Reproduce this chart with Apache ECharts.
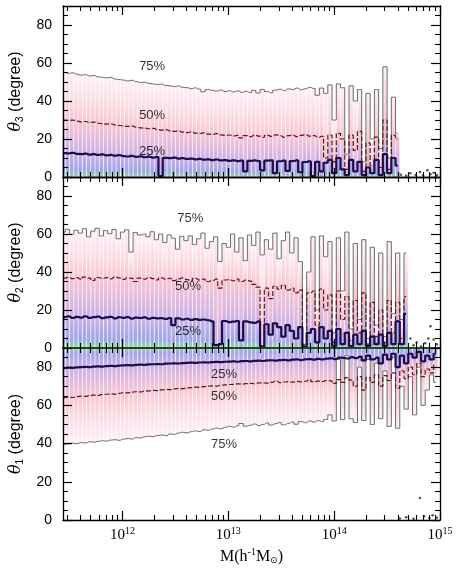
<!DOCTYPE html>
<html><head><meta charset="utf-8">
<script src="https://cdn.jsdelivr.net/npm/echarts@6/dist/echarts.min.js"></script>
<style>html,body{margin:0;padding:0;background:#fff}#c{width:458px;height:569px}</style>
</head><body><div id="c"></div>
<script>
// bin centres, log10(M / h^-1 Msun)
const logM = [11.44,11.48,11.52,11.56,11.60,11.64,11.68,11.72,11.76,11.80,
11.84,11.88,11.92,11.96,12.00,12.04,12.08,12.12,12.16,12.20,
12.24,12.28,12.32,12.36,12.40,12.44,12.48,12.52,12.56,12.60,
12.64,12.68,12.72,12.76,12.80,12.84,12.88,12.92,12.96,13.00,
13.04,13.08,13.12,13.16,13.20,13.24,13.28,13.32,13.36,13.40,
13.44,13.48,13.52,13.56,13.60,13.64,13.68,13.72,13.76,13.80,
13.84,13.88,13.92,13.96,14.00,14.04,14.08,14.12,14.16,14.20,
14.24,14.28,14.32,14.36,14.40,14.44,14.48,14.52,14.56,14.60,
14.64,14.68,14.72,14.76,14.80,14.84,14.88,14.92,14.96];

// theta_3 panel (top)
const t3_p75 = [55.0,54.6,54.8,54.1,53.6,53.9,53.2,53.4,52.7,52.5,
52.2,52.4,51.6,51.3,51.0,50.6,50.9,50.2,49.8,49.9,
49.3,49.0,48.7,48.9,48.2,48.0,47.6,47.9,47.2,47.0,
46.5,46.9,46.2,44.8,46.0,45.6,45.2,45.8,45.0,45.4,
44.8,45.3,44.6,45.1,44.4,45.6,44.2,46.1,45.0,44.3,
45.7,46.2,45.5,46.4,46.0,46.8,45.9,46.5,47.2,46.6,
43.0,46.8,44.0,48.5,30.0,49.0,47.0,12.0,48.0,40.0,
46.0,8.0,44.0,20.0,46.0,15.0,58.0,10.0,42.0,23.0];
const t3_p50 = [30.0,29.8,29.9,29.4,29.0,29.2,28.7,28.9,28.3,28.1,
27.8,28.0,27.4,27.1,26.9,26.6,26.8,26.2,25.9,25.7,
25.4,25.6,25.0,24.7,24.9,24.3,24.0,24.2,23.6,23.4,
23.7,23.1,22.9,23.2,22.6,22.4,22.8,22.2,21.9,22.1,
21.6,21.9,20.6,21.8,21.3,22.0,21.5,20.8,21.9,21.4,
22.2,21.7,20.9,21.8,22.0,21.2,21.9,22.3,21.5,21.8,
20.8,21.4,10.0,22.0,8.0,23.0,20.0,4.0,22.0,14.0,
24.0,3.0,18.0,6.0,21.0,5.0,30.0,4.0,22.0,20.0];
const t3_p25 = [12.6,12.4,12.7,12.2,12.0,12.3,11.8,12.0,11.6,11.9,
11.4,11.6,11.2,11.5,11.0,10.8,11.1,10.6,10.9,10.4,
10.7,10.2,10.5,0.5,10.1,9.9,10.2,9.7,9.9,9.5,
9.7,9.3,9.5,9.1,9.3,8.9,9.2,8.7,8.9,8.5,
8.8,8.4,8.6,3.0,8.5,8.7,8.4,3.5,8.6,8.8,
2.0,8.3,8.6,3.2,8.4,8.7,2.5,7.9,8.2,0.5,
8.0,3.0,7.5,9.0,2.0,10.0,4.0,1.0,9.0,3.0,
8.0,1.0,5.0,2.0,9.0,1.0,12.0,2.0,10.0,6.0];

// theta_2 panel (middle)
const t2_p75 = [61.0,62.5,59.8,62.0,60.5,62.8,58.5,61.5,63.0,59.0,
61.8,60.2,62.4,57.5,61.0,62.2,50.5,60.8,59.5,60.0,
58.5,61.2,57.0,60.0,55.5,59.5,57.8,52.0,58.8,56.5,
59.0,54.5,57.5,60.5,52.5,56.0,58.5,45.5,55.0,53.0,
60.0,50.5,58.0,46.0,59.5,54.0,61.0,49.0,57.0,52.0,
60.5,47.0,56.5,61.0,50.0,58.0,45.5,2.0,40.0,58.5,
20.0,59.0,48.0,56.0,8.0,58.0,30.0,61.0,10.0,55.0,
15.0,57.0,5.0,53.0,12.0,50.0,6.0,56.0,18.0,50.0,
15.0,50.0];
const t2_p50 = [36.8,37.2,36.5,37.0,36.2,37.3,36.8,35.6,37.1,36.6,
37.0,36.4,37.4,36.9,36.1,37.0,36.6,35.0,36.8,36.3,
37.1,36.5,35.8,36.9,36.2,36.7,35.5,36.4,36.9,36.0,
35.2,36.6,35.8,36.3,35.0,35.5,36.2,31.5,35.8,36.0,
35.4,36.2,35.0,35.8,35.2,33.5,32.0,1.0,31.5,26.0,
32.5,31.0,33.0,30.5,31.5,29.0,30.5,1.5,29.0,30.0,
12.0,31.0,20.0,28.0,3.0,30.0,15.0,27.0,4.0,25.0,
8.0,29.0,2.0,24.0,6.0,20.0,3.0,25.0,8.0,24.0,
5.0,27.0];
const t2_p25 = [16.3,16.6,15.8,16.4,16.0,16.7,15.9,16.2,16.5,15.7,
16.1,16.4,15.6,16.2,15.9,16.3,15.5,16.0,15.8,16.1,
15.4,15.9,15.6,15.7,15.3,15.8,12.0,15.6,15.0,15.4,
14.8,15.2,14.8,15.0,14.6,14.0,1.5,2.0,14.2,13.6,
13.9,14.2,4.0,14.0,13.5,13.2,14.0,0.8,12.5,7.0,
13.0,11.0,6.0,12.0,9.0,5.0,11.0,0.5,8.0,10.0,
3.0,11.0,5.0,9.0,1.0,10.0,2.0,8.0,1.0,7.0,
2.0,9.0,1.0,6.0,2.0,7.0,1.0,8.0,2.0,14.0,
2.0,18.0];

// theta_1 panel (bottom)
const t1_p25 = [79.5,79.7,79.6,79.9,80.0,80.1,80.0,80.3,80.4,80.3,
80.5,80.6,80.5,80.8,80.9,81.0,80.9,81.2,81.3,81.2,
81.4,81.5,81.6,81.5,81.8,81.9,82.0,81.9,82.1,82.2,
82.3,82.2,82.4,82.5,82.4,82.6,82.7,82.6,82.8,82.9,
83.0,82.8,83.1,83.2,83.0,83.3,83.4,83.2,83.5,83.6,
83.4,83.7,83.8,83.5,83.9,84.0,83.7,84.1,84.2,83.9,
84.3,84.0,84.4,84.6,84.2,85.0,84.8,84.5,85.2,84.7,
85.5,83.5,86.0,84.0,85.0,82.0,86.5,84.0,87.0,80.0,
86.0,82.0,87.0,85.0,88.0,83.0,86.0,84.0,87.0];
const t1_p50 = [64.0,64.3,64.1,64.6,64.8,64.7,65.1,65.3,65.2,65.6,
65.8,66.0,65.9,66.3,66.6,66.5,66.9,67.1,67.0,67.4,
67.6,67.8,67.7,68.1,68.3,68.2,68.6,68.8,68.7,69.1,
69.3,69.5,69.4,69.8,70.0,70.2,70.1,70.5,70.7,70.9,
71.0,71.2,71.1,71.4,71.5,71.3,71.7,71.8,71.6,72.0,
72.8,71.9,72.2,72.4,72.1,72.5,72.3,72.6,73.5,72.4,
72.7,72.5,73.0,72.8,71.5,73.5,72.0,74.5,73.2,70.0,
75.0,68.0,74.5,72.0,76.0,70.0,75.5,73.0,77.0,69.0,
78.0,74.0,80.0,76.0,82.0,75.0,79.0,77.0,81.0];
const t1_p75 = [39.5,39.8,40.2,39.9,40.5,40.3,40.9,40.7,41.1,41.5,
41.3,41.8,42.0,41.7,42.3,42.6,42.4,43.1,42.9,43.5,
43.8,43.6,44.2,44.5,44.1,45.0,44.8,45.5,45.9,45.6,
46.2,46.6,46.3,47.2,46.9,47.6,48.0,47.7,48.5,49.0,
48.6,49.3,50.5,49.1,49.6,50.2,49.4,50.0,50.8,49.7,
50.4,51.0,49.8,50.6,51.3,50.1,51.5,50.9,51.8,51.2,
52.0,51.5,52.6,55.0,51.8,84.0,52.5,86.0,53.0,51.0,
80.0,52.0,84.0,50.0,82.0,53.0,78.0,49.0,85.0,48.0,
70.0,58.0,75.0,55.0,80.0,60.0,68.0,76.0,72.0];

// isolated high-mass points
const t3_tailX = [14.63,14.68,14.72,14.77,14.81,14.84,14.88,14.91,14.94,14.97];
const t3_tailY = [1.2,0.6,2.0,1.0,2.6,0.8,3.5,1.4,2.2,0.9];
const t2_tailX = [14.72,14.75,14.78,14.82,14.86,14.89,14.91,14.94,14.97];
const t2_tailY = [5.0,1.5,3.0,0.8,2.5,5.0,11.5,4.5,2.0];
const t1_tailX = [14.62,14.68,14.75,14.81,14.85,14.90,14.93,14.97];
const t1_tailY = [0.8,1.5,0.6,11.5,2.0,1.0,2.5,1.2];

const pctLabels = ['75%','50%','25%'];
const pctPos = [
  [[12.28,58],[12.28,32.6],[12.28,13.5]],
  [[12.64,68.4],[12.62,32.6],[12.62,8.6]],
  [[12.96,39.5],[12.96,64.7],[12.96,76.3]]
];
const yNames = ['3','2','1'];
const majorX = [12,13,14,15];
const majorY = [0,20,40,60,80];
const minorY = [5,10,15,25,30,35,45,50,55,65,70,75,85];

const X_MIN = 11.4375, X_MAX = 15, BIN = 0.04;
const minorX = [];
for (let n = 11; n <= 14; n++) for (let k = 2; k <= 9; k++) {
  const v = Math.log10(k) + n; if (v > X_MIN && v < X_MAX) minorX.push(v);
}

const panels = [
  {p25: t3_p25, p50: t3_p50, p75: t3_p75, tx: t3_tailX, ty: t3_tailY, inv: false},
  {p25: t2_p25, p50: t2_p50, p75: t2_p75, tx: t2_tailX, ty: t2_tailY, inv: false},
  {p25: t1_p25, p50: t1_p50, p75: t1_p75, tx: t1_tailX, ty: t1_tailY, inv: true}
];

const grids = [
  {left: 60, top: 6, width: 380, height: 171},
  {left: 60, top: 177, width: 380, height: 171},
  {left: 60, top: 348, width: 380, height: 172}
];

const frame = {show: true, onZero: false, lineStyle: {color: '#000', width: 1.3}};
const greenFrame = {show: true, onZero: false, lineStyle: {color: '#1e4a22', width: 2}};
const xAxes = [], yAxes = [], series = [];

grids.forEach((g, gi) => {
  const xl = {
    show: gi === 2, customValues: majorX, margin: 6,
    formatter: v => '{a|10}{b|' + Math.round(v) + '}',
    rich: {
      a: {fontFamily: 'Liberation Serif', fontSize: 15, color: '#000'},
      b: {fontFamily: 'Liberation Serif', fontSize: 10, color: '#000', padding: [0, 0, 9, 0]}
    }
  };
  const baseX = {gridIndex: gi, type: 'value', min: X_MIN, max: X_MAX, splitLine: {show: false}, z: 10};
  xAxes.push(Object.assign({}, baseX, {position: 'bottom', axisLine: gi === 1 ? greenFrame : frame,
    axisTick: {show: true, inside: true, length: 9, customValues: majorX, lineStyle: {color: '#000', width: 1.2}},
    axisLabel: xl,
    name: gi === 2 ? '{n|M(h}{u|-1}{n|M}{d|⊙}{n|)}' : '', nameLocation: 'middle', nameGap: 27,
    nameTextStyle: {rich: {
      n: {fontFamily: 'Liberation Serif', fontSize: 16, color: '#000'},
      u: {fontFamily: 'Liberation Serif', fontSize: 10, color: '#000', padding: [0, 0, 9, 0]},
      d: {fontFamily: 'DejaVu Sans', fontSize: 9, color: '#000', padding: [8, 0, 0, 0]}
    }}}));
  xAxes.push(Object.assign({}, baseX, {position: 'bottom', axisLine: {show: false, onZero: false},
    axisTick: {show: true, inside: true, length: 5, customValues: minorX, lineStyle: {color: '#000', width: 1.1}},
    axisLabel: {show: false}}));
  xAxes.push(Object.assign({}, baseX, {position: 'top', axisLine: gi === 2 ? greenFrame : frame,
    axisTick: {show: true, inside: true, length: 9, customValues: majorX, lineStyle: {color: '#000', width: 1.2}},
    axisLabel: {show: false}}));
  xAxes.push(Object.assign({}, baseX, {position: 'top', axisLine: {show: false, onZero: false},
    axisTick: {show: true, inside: true, length: 5, customValues: minorX, lineStyle: {color: '#000', width: 1.1}},
    axisLabel: {show: false}}));

  const baseY = {gridIndex: gi, type: 'value', min: 0, max: 90, splitLine: {show: false}, z: 10};
  yAxes.push(Object.assign({}, baseY, {position: 'left', axisLine: frame,
    axisTick: {show: true, inside: true, length: 9, customValues: majorY, lineStyle: {color: '#000', width: 1.2}},
    axisLabel: {show: true, customValues: majorY, margin: 11, fontFamily: 'Liberation Sans', fontSize: 14, color: '#000'},
    name: '{t|θ}{s|' + yNames[gi] + '}{n| (degree)}', nameLocation: 'middle', nameRotate: 90, nameGap: 35,
    nameTextStyle: {rich: {
      t: {fontFamily: 'DejaVu Serif', fontStyle: 'italic', fontSize: 16, color: '#000'},
      s: {fontFamily: 'Liberation Sans', fontSize: 10, color: '#000', padding: [9, 0, 0, 0]},
      n: {fontFamily: 'Liberation Sans', fontSize: 16, color: '#000'}
    }}}));
  yAxes.push(Object.assign({}, baseY, {position: 'left', axisLine: {show: false, onZero: false},
    axisTick: {show: true, inside: true, length: 5, customValues: minorY, lineStyle: {color: '#000', width: 1.1}},
    axisLabel: {show: false}}));
  yAxes.push(Object.assign({}, baseY, {position: 'right', axisLine: frame,
    axisTick: {show: true, inside: true, length: 9, customValues: majorY, lineStyle: {color: '#000', width: 1.2}},
    axisLabel: {show: false}}));
  yAxes.push(Object.assign({}, baseY, {position: 'right', axisLine: {show: false, onZero: false},
    axisTick: {show: true, inside: true, length: 5, customValues: minorY, lineStyle: {color: '#000', width: 1.1}},
    axisLabel: {show: false}}));

  const P = panels[gi];
  const xi = gi * 4, yi = gi * 4;
  const inv = P.inv;
  const shadeData = P.p75.map((c, i) => [logM[i], P.p25[i], P.p50[i], c]);

  series.push({
    type: 'custom', xAxisIndex: xi, yAxisIndex: yi, clip: true, silent: true, z: 1,
    data: shadeData,
    renderItem: function (params, api) {
      const x = api.value(0), a = api.value(1), b = api.value(2), c = api.value(3);
      const base = inv ? 90 : 0;
      const pL = api.coord([x - BIN / 2, base]);
      const pR = api.coord([x + BIN / 2, base]);
      const pE = api.coord([x, c]);
      const top = Math.min(pL[1], pE[1]);
      const h = Math.abs(pL[1] - pE[1]);
      const span = Math.abs(base - c) || 1;
      const f = v => Math.max(0, Math.min(1, Math.abs(v - base) / span));
      const fa = f(a), fb = Math.max(fa, f(b));
      const stops = [
        {offset: 0, color: 'rgba(140,215,155,0.9)'},
        {offset: Math.min(fa * 0.3, 0.12), color: 'rgba(130,135,228,0.75)'},
        {offset: fa, color: 'rgba(180,145,222,0.72)'},
        {offset: fb, color: 'rgba(246,170,190,0.68)'},
        {offset: 1, color: 'rgba(253,225,230,0.5)'}
      ];
      const grad = inv ? new echarts.graphic.LinearGradient(0, 0, 0, 1, stops)
                       : new echarts.graphic.LinearGradient(0, 1, 0, 0, stops);
      return {type: 'rect', shape: {x: pL[0] + 0.35, y: top, width: Math.max(0.5, pR[0] - pL[0] - 0.7), height: h},
              style: {fill: grad}};
    }
  });

  const mk = arr => arr.map((v, i) => [logM[i], v]);
  series.push({type: 'line', xAxisIndex: xi, yAxisIndex: yi, data: mk(P.p75), step: 'middle', symbol: 'none',
    lineStyle: {color: '#6a6a6a', width: 1}, z: 3, silent: true});
  series.push({type: 'line', xAxisIndex: xi, yAxisIndex: yi, data: mk(P.p50), step: 'middle', symbol: 'none',
    lineStyle: {color: '#5e1616', width: 1.2, type: [5, 2]}, z: 4, silent: true});
  series.push({type: 'line', xAxisIndex: xi, yAxisIndex: yi, data: mk(P.p25), step: 'middle', symbol: 'none',
    lineStyle: {color: '#1c0d4e', width: 2.2}, z: 5, silent: true});
  series.push({type: 'scatter', xAxisIndex: xi, yAxisIndex: yi, data: P.tx.map((x, i) => [x, P.ty[i]]),
    symbolSize: 2.5, itemStyle: {color: '#1a2a1a'}, z: 6, silent: true});
  series.push({type: 'scatter', xAxisIndex: xi, yAxisIndex: yi, symbolSize: 0, z: 7, silent: true,
    data: pctPos[gi].map((p, k) => [p[0], p[1], pctLabels[k]]),
    label: {show: true, position: 'inside', formatter: p => p.value[2], fontFamily: 'Liberation Sans', fontSize: 13, color: '#000'}});
});

const chart = echarts.init(document.getElementById('c'), null, {renderer: 'canvas'});
chart.setOption({animation: false, backgroundColor: '#fff', grid: grids, xAxis: xAxes, yAxis: yAxes, series: series});
</script></body></html>
